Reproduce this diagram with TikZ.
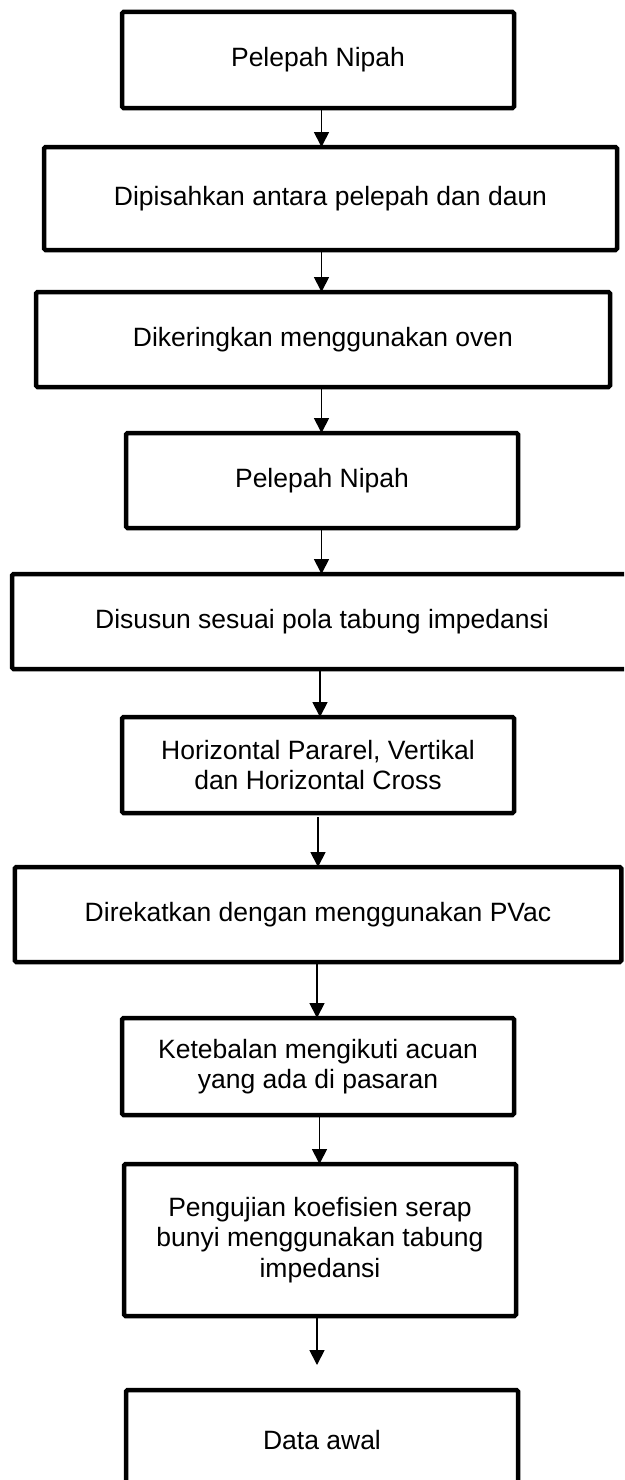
\documentclass[tikz,border=0pt]{standalone}
\usepackage{fontspec}
\setmainfont{Liberation Sans}
\usetikzlibrary{arrows.meta}
\begin{document}
\begin{tikzpicture}[x=1pt,y=-1pt,
  box/.style={draw=black, line width=4.5pt, rounded corners=1.5pt, fill=white,
    inner sep=0pt, outer sep=0pt, align=center,
    font=\fontsize{26.5}{30.5}\selectfont},
  arr/.style={draw=black, line width=1.8pt, -{Triangle[width=15pt,length=15pt]}}]
\useasboundingbox (0,0) rectangle (624,1480);
\clip (0,0) rectangle (624,1480);
\fill[white] (0,0) rectangle (624,1480);
\node[box, minimum width=392pt, minimum height=96pt] (b1) at (318,60) {Pelepah Nipah};
\node[box, minimum width=573pt, minimum height=103pt] (b2) at (330.5,198.5) {Dipisahkan antara pelepah dan daun};
\node[box, minimum width=574pt, minimum height=95pt] (b3) at (323,339.5) {Dikeringkan menggunakan oven};
\node[box, minimum width=392pt, minimum height=95pt] (b4) at (322,480.5) {Pelepah Nipah};
\node[box, minimum width=628pt, minimum height=95pt] (b5) at (326,621.5) {};
\node at (322,621.5) [font=\fontsize{26.5}{30.5}\selectfont] (t5) {Disusun sesuai pola tabung impedansi};
\node[box, minimum width=392pt, minimum height=96pt] (b6) at (318,765) {Horizontal Pararel, Vertikal\\dan Horizontal Cross};
\node[box, minimum width=606.5pt, minimum height=95pt] (b7) at (318,914.5) {Direkatkan dengan menggunakan PVac};
\node[box, minimum width=392pt, minimum height=97pt] (b8) at (318,1066.5) {Ketebalan mengikuti acuan\\yang ada di pasaran};
\node[box, minimum width=392pt, minimum height=152pt] (b9) at (320,1240) {Pengujian koefisien serap\\bunyi menggunakan tabung\\impedansi};
\node[box, minimum width=392pt, minimum height=100pt] (b10) at (322,1440) {Data awal};
\coordinate (e9) at (317,1365);
\draw[arr] ([xshift=3.5pt]b1.south) -- ([xshift=3.5pt]b1.south |- b2.north);
\draw[arr] ([xshift=-9pt]b2.south) -- ([xshift=-9pt]b2.south |- b3.north);
\draw[arr] ([xshift=-1.5pt]b3.south) -- ([xshift=-1.5pt]b3.south |- b4.north);
\draw[arr] ([xshift=-0.5pt]b4.south) -- ([xshift=-0.5pt]b4.south |- b5.north);
\draw[arr] ([xshift=-6pt]b5.south) -- ([xshift=-6pt]b5.south |- b6.north);
\draw[arr] ([yshift=-4pt]b6.south) -- (b6.south |- b7.north);
\draw[arr] ([xshift=-1pt]b7.south) -- ([xshift=-1pt]b7.south |- b8.north);
\draw[arr] ([xshift=1.5pt]b8.south) -- ([xshift=1.5pt]b8.south |- b9.north);
\draw[arr] ([xshift=-3pt]b9.south) -- (e9);
\end{tikzpicture}
\end{document}
